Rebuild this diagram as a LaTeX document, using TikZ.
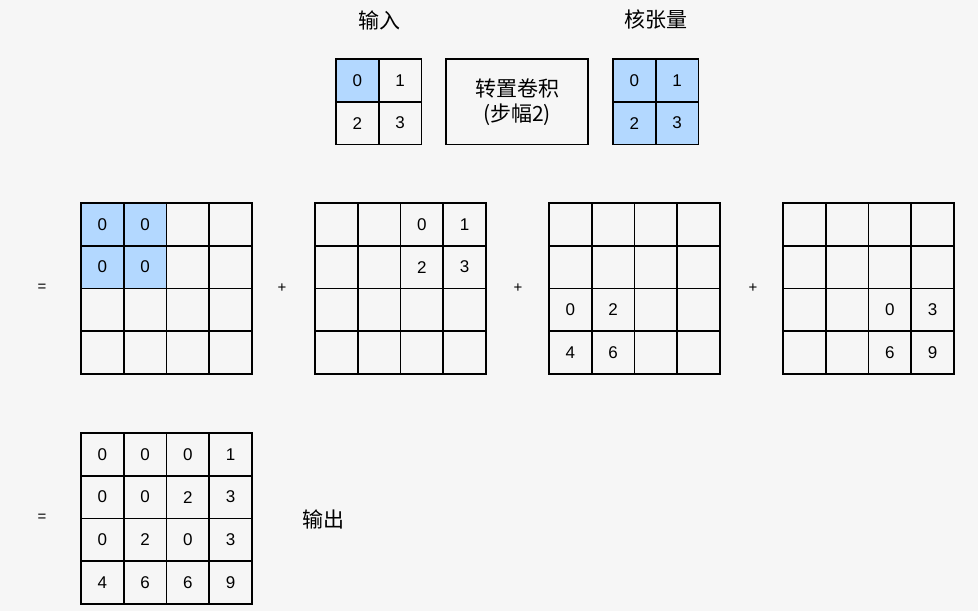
\documentclass[tikz,border=0pt]{standalone}
\usepackage{fontspec}
\setmainfont{Liberation Sans}
\newfontfamily\cjk{Noto Sans CJK SC}
\usetikzlibrary{positioning}

\definecolor{cellblue}{RGB}{179,216,255}
\definecolor{bggray}{RGB}{246,246,246}
\newcommand{\cs}{42.75}

% grid of cells: name, left, top, columns, {value/fill,...}
\newcommand{\cellgrid}[5]{%
  \foreach \v/\f [count=\i from 0] in {#5} {
    \pgfmathtruncatemacro\r{\i/#4}
    \pgfmathtruncatemacro\c{mod(\i,#4)}
    \node[cell,fill=\f] (#1-\r-\c) at ({#2+(\c+0.5)*\cs},{#3+(\r+0.5)*\cs}) {\v};
  }}

\begin{document}
\begin{tikzpicture}[x=1pt,y=-1pt,
    cell/.style={draw,line width=1.9pt,minimum size=\cs pt,inner sep=0pt,
      font=\fontsize{17}{19}\selectfont},
    op/.style={font=\fontsize{15}{18}\selectfont},
    lbl/.style={font=\cjk\fontsize{21}{25}\selectfont}]
  \fill[bggray] (0,0) rectangle (978,611);
  \useasboundingbox (0,0) rectangle (978,611);

  % top row
  \cellgrid{in}{336}{59}{2}{0/cellblue,1/none,2/none,3/none}
  \cellgrid{k}{613}{59}{2}{0/cellblue,1/cellblue,2/cellblue,3/cellblue}
  \node[draw,line width=1.9pt,minimum width=142pt,minimum height=85.5pt,
        align=center,lbl] (tconv) at (517,101.75) {转置卷积\\(步幅2)};
  \node[lbl] (inlbl) at (379.5,20) {输入};
  \node[lbl] (klbl) at (655.5,20) {核张量};

  % partial results
  \cellgrid{a}{81}{203}{4}{0/cellblue,0/cellblue,{}/none,{}/none,
    0/cellblue,0/cellblue,{}/none,{}/none,
    {}/none,{}/none,{}/none,{}/none,{}/none,{}/none,{}/none,{}/none}
  \cellgrid{b}{315}{203}{4}{{}/none,{}/none,0/none,1/none,
    {}/none,{}/none,2/none,3/none,
    {}/none,{}/none,{}/none,{}/none,{}/none,{}/none,{}/none,{}/none}
  \cellgrid{c}{549}{203}{4}{{}/none,{}/none,{}/none,{}/none,
    {}/none,{}/none,{}/none,{}/none,
    0/none,2/none,{}/none,{}/none,4/none,6/none,{}/none,{}/none}
  \cellgrid{d}{783}{203}{4}{{}/none,{}/none,{}/none,{}/none,
    {}/none,{}/none,{}/none,{}/none,
    {}/none,{}/none,0/none,3/none,{}/none,{}/none,6/none,9/none}

  \node[op] (eq1) at (42,288) {=};
  \node[op] (p1) at (282,288) {+};
  \node[op] (p2) at (518,288) {+};
  \node[op] (p3) at (753,288) {+};

  % output
  \cellgrid{o}{81}{433}{4}{0/none,0/none,0/none,1/none,
    0/none,0/none,2/none,3/none,
    0/none,2/none,0/none,3/none,
    4/none,6/none,6/none,9/none}
  \node[op] (eq2) at (42,518) {=};
  \node[lbl,right=46pt of o-1-3.south east] (outlbl) {输出};
\end{tikzpicture}
\end{document}
